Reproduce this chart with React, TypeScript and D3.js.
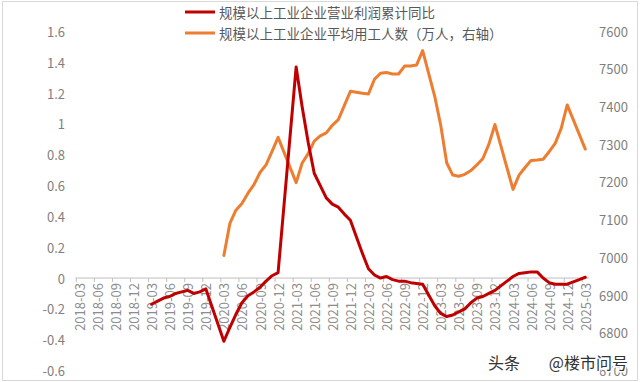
import React from 'react';
import * as d3 from 'd3';

// ---- data ----
const tickLabels: string[] = [
  '2018-03', '2018-06', '2018-09', '2018-12',
  '2019-03', '2019-06', '2019-09', '2019-12',
  '2020-03', '2020-06', '2020-09', '2020-12',
  '2021-03', '2021-06', '2021-09', '2021-12',
  '2022-03', '2022-06', '2022-09', '2022-12',
  '2023-03', '2023-06', '2023-09', '2023-12',
  '2024-03', '2024-06', '2024-09', '2024-12',
  '2025-03',
];

const leftTicks: number[] = [-0.6, -0.4, -0.2, 0, 0.2, 0.4, 0.6, 0.8, 1, 1.2, 1.4, 1.6];
const rightTicks: number[] = [6700, 6800, 6900, 7000, 7100, 7200, 7300, 7400, 7500, 7600];

const profitMonths: string[] = [
  '2019-03', '2019-04', '2019-05', '2019-06', '2019-07', '2019-08', '2019-09', '2019-10', '2019-11', '2019-12',
  '2020-03', '2020-04', '2020-05', '2020-06', '2020-07', '2020-08', '2020-09', '2020-10', '2020-11', '2020-12',
  '2021-03', '2021-04', '2021-05', '2021-06', '2021-07', '2021-08', '2021-09', '2021-10', '2021-11', '2021-12',
  '2022-02', '2022-03', '2022-04', '2022-05', '2022-06', '2022-07', '2022-08', '2022-09', '2022-10', '2022-11', '2022-12',
  '2023-02', '2023-03', '2023-04', '2023-05', '2023-06', '2023-07', '2023-08', '2023-09', '2023-10', '2023-11', '2023-12',
  '2024-02', '2024-03', '2024-04', '2024-05', '2024-06', '2024-07', '2024-08', '2024-09', '2024-10', '2024-11', '2024-12',
  '2025-02', '2025-03',
];
const profitValues: number[] = [
  -0.17, -0.15, -0.13, -0.12, -0.10, -0.09, -0.08, -0.10, -0.09, -0.07,
  -0.41, -0.32, -0.235, -0.16, -0.115, -0.09, -0.06, -0.02, 0.015, 0.035,
  1.37, 1.11, 0.88, 0.68, 0.60, 0.52, 0.48, 0.46, 0.415, 0.375,
  0.16, 0.06, 0.02, 0.0, 0.01, -0.01, -0.02, -0.02, -0.03, -0.035, -0.04,
  -0.18, -0.23, -0.25, -0.24, -0.22, -0.20, -0.16, -0.13, -0.12, -0.10, -0.08,
  -0.02, 0.01, 0.03, 0.035, 0.04, 0.04, 0.0, -0.03, -0.04, -0.04, -0.04,
  -0.01, 0.005,
];

const employMonths: string[] = [
  '2020-03', '2020-04', '2020-05', '2020-06', '2020-07', '2020-08', '2020-09', '2020-10', '2020-11', '2020-12',
  '2021-03', '2021-04', '2021-05', '2021-06', '2021-07', '2021-08', '2021-09', '2021-10', '2021-12',
  '2022-02', '2022-03', '2022-04', '2022-05', '2022-06', '2022-07', '2022-08', '2022-09', '2022-10', '2022-11', '2022-12',
  '2023-02', '2023-03', '2023-04', '2023-05', '2023-06', '2023-07', '2023-08', '2023-09', '2023-10', '2023-11', '2023-12',
  '2024-03', '2024-04', '2024-05', '2024-06', '2024-07', '2024-08', '2024-09', '2024-10', '2024-11', '2024-12',
  '2025-03',
];
const employValues: number[] = [
  7005, 7090, 7125, 7143, 7170, 7193, 7225, 7245, 7281, 7318,
  7198, 7250, 7275, 7308, 7322, 7330, 7350, 7365, 7440,
  7435, 7433, 7472, 7488, 7490, 7486, 7486, 7507, 7507, 7510, 7548,
  7427, 7350, 7250, 7218, 7215, 7220, 7230, 7245, 7262, 7300, 7352,
  7180, 7218, 7238, 7257, 7258, 7260, 7280, 7302, 7342, 7404,
  7287,
];

const legendLabels: string[] = ['规模以上工业企业营业利润累计同比', '规模以上工业企业平均用工人数（万人，右轴）'];
const watermarkA = '头条';
const watermarkB = '@楼市问号';

// ---- helpers ----
const monthIndex = (s: string): number => {
  const [y, m] = s.split('-').map(Number);
  return (y - 2018) * 12 + (m - 3);
};

const W = 640;
const H = 382;
const FONT = "'Noto Sans CJK SC', 'Noto Sans', sans-serif";
const RED = '#C00000';
const ORANGE = '#ED7D31';

export default function App() {
  const x = d3.scaleLinear().domain([0, monthIndex('2025-03')]).range([79.3, 585.3]);
  const yL = d3.scaleLinear().domain([-0.6, 1.6]).range([370.5, 31.5]);
  const yR = d3.scaleLinear().domain([6700, 7600]).range([370.5, 31]);

  const profitData = profitMonths.map((m, i) => ({ i: monthIndex(m), v: profitValues[i] }));
  const employData = employMonths.map((m, i) => ({ i: monthIndex(m), v: employValues[i] }));

  const redLine = d3.line<{ i: number; v: number }>().x(d => x(d.i)).y(d => yL(d.v))(profitData) || '';
  const orangeLine = d3.line<{ i: number; v: number }>().x(d => x(d.i)).y(d => yR(d.v))(employData) || '';

  const y0 = yL(0);
  const axisStart = x(0) - 4;
  const axisEnd = x(monthIndex('2025-03')) + 4;

  return (
    <div style={{ position: 'absolute', left: 0, top: 0 }}>
      <svg width={W} height={H} style={{ display: 'block', background: '#fff' }} fontFamily={FONT}>
        <rect x={2.5} y={1.5} width={635} height={379} fill="#fff" stroke="#d9d9d9" strokeWidth={1} />

        {/* left axis labels */}
        {leftTicks.map(t => (
          <text key={'l' + t} x={65} y={yL(t)} textAnchor="end" dominantBaseline="central" fontSize={13} fill="#7f7f7f">
            {d3.format('~g')(t).replace('−', '-')}
          </text>
        ))}

        {/* right axis labels */}
        {rightTicks.map(t => (
          <text key={'r' + t} x={599} y={yR(t)} textAnchor="start" dominantBaseline="central" fontSize={13} fill="#7f7f7f">
            {t}
          </text>
        ))}

        {/* category axis */}
        <line x1={axisStart} x2={axisEnd} y1={y0} y2={y0} stroke="#bfbfbf" strokeWidth={1} />
        {tickLabels.map(lbl => {
          const tx = x(monthIndex(lbl));
          return (
            <g key={lbl}>
              <line x1={tx - 3} x2={tx - 3} y1={y0} y2={y0 + 4} stroke="#bfbfbf" strokeWidth={1} />
              <text
                transform={`translate(${tx},${y0 + 5}) rotate(-90)`}
                textAnchor="end"
                dominantBaseline="central"
                fontSize={13}
                fill="#8c8c8c"
              >
                {lbl}
              </text>
            </g>
          );
        })}

        {/* series */}
        <path d={orangeLine} fill="none" stroke={ORANGE} strokeWidth={3} strokeLinejoin="round" strokeLinecap="round" />
        <path d={redLine} fill="none" stroke={RED} strokeWidth={3} strokeLinejoin="round" strokeLinecap="round" />

        {/* legend */}
        <line x1={185} x2={215} y1={12} y2={12} stroke={RED} strokeWidth={3} />
        <text x={219} y={12} dominantBaseline="central" fontSize={13.5} fill="#595959">{legendLabels[0]}</text>
        <line x1={185} x2={215} y1={33} y2={33} stroke={ORANGE} strokeWidth={3} />
        <text x={219} y={33} dominantBaseline="central" fontSize={13.5} fill="#595959">{legendLabels[1]}</text>

        {/* watermark */}
        <text x={488} y={362} textAnchor="start" dominantBaseline="central" fontSize={16}
          fill="#333" stroke="#fff" strokeWidth={3} paintOrder="stroke">
          {watermarkA}
        </text>
        <text x={628} y={362} textAnchor="end" dominantBaseline="central" fontSize={16}
          fill="#333" stroke="#fff" strokeWidth={3} paintOrder="stroke">
          {watermarkB}
        </text>
      </svg>
    </div>
  );
}
